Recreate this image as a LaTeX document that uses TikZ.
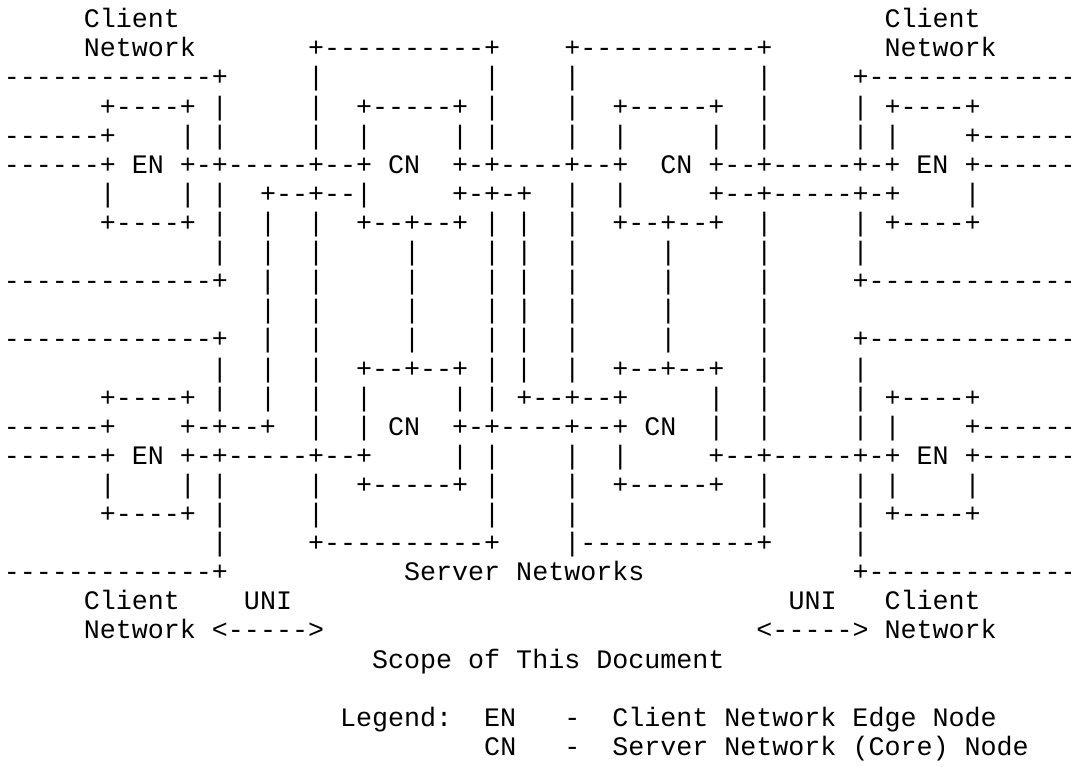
\documentclass[tikz,border=0pt]{standalone}
\usepackage{fontspec}
\setmonofont{Liberation Mono}

% a run of n blank columns
\newcommand\blank[1]{\kern#1\fontdimen2\font}

\begin{document}
\begin{tikzpicture}[x=12.011pt, y=-21.825pt,
	asciirow/.style={anchor=base west, inner sep=0pt, outer sep=0pt,
		font=\ttfamily\fontsize{20.015}{21.825}\selectfont}]
	\useasboundingbox (-2.85pt,20.85pt) rectangle ++(803.25pt,-575.25pt);

	% rows of the figure, placed at (first column, row)
	\node[asciirow] (row1) at (5,0) {Client\blank{44}Client};
	\node[asciirow] (row2) at (5,1) {Network\blank{7}+----------+\blank{4}+-----------+\blank{7}Network};
	\node[asciirow] (row3) at (0,2) {-------------+\blank{5}|\blank{10}|\blank{4}|\blank{11}|\blank{5}+-------------};
	\node[asciirow] (row4) at (6,3) {+----+ |\blank{5}|\blank{2}+-----+ |\blank{4}|\blank{2}+-----+\blank{2}|\blank{5}| +----+};
	\node[asciirow] (row5) at (0,4) {------+\blank{4}| |\blank{5}|\blank{2}|\blank{5}| |\blank{4}|\blank{2}|\blank{5}|\blank{2}|\blank{5}| |\blank{4}+------};
	\node[asciirow] (row6) at (0,5) {------+ EN +-+-----+--+ CN\blank{2}+-+----+--+\blank{2}CN +--+-----+-+ EN +------};
	\node[asciirow] (row7) at (6,6) {|\blank{4}| |\blank{2}+--+--|\blank{5}+-+-+\blank{2}|\blank{2}|\blank{5}+--+-----+-+\blank{4}|};
	\node[asciirow] (row8) at (6,7) {+----+ |\blank{2}|\blank{2}|\blank{2}+--+--+ | |\blank{2}|\blank{2}+--+--+\blank{2}|\blank{5}| +----+};
	\node[asciirow] (row9) at (13,8) {|\blank{2}|\blank{2}|\blank{5}|\blank{4}| |\blank{2}|\blank{5}|\blank{5}|\blank{5}|};
	\node[asciirow] (row10) at (0,9) {-------------+\blank{2}|\blank{2}|\blank{5}|\blank{4}| |\blank{2}|\blank{5}|\blank{5}|\blank{5}+-------------};
	\node[asciirow] (row11) at (16,10) {|\blank{2}|\blank{5}|\blank{4}| |\blank{2}|\blank{5}|\blank{5}|};
	\node[asciirow] (row12) at (0,11) {-------------+\blank{2}|\blank{2}|\blank{5}|\blank{4}| |\blank{2}|\blank{5}|\blank{5}|\blank{5}+-------------};
	\node[asciirow] (row13) at (13,12) {|\blank{2}|\blank{2}|\blank{2}+--+--+ | |\blank{2}|\blank{2}+--+--+\blank{2}|\blank{5}|};
	\node[asciirow] (row14) at (6,13) {+----+ |\blank{2}|\blank{2}|\blank{2}|\blank{5}| | +--+--+\blank{5}|\blank{2}|\blank{5}| +----+};
	\node[asciirow] (row15) at (0,14) {------+\blank{4}+-+--+\blank{2}|\blank{2}| CN\blank{2}+-+----+--+ CN\blank{2}|\blank{2}|\blank{5}| |\blank{4}+------};
	\node[asciirow] (row16) at (0,15) {------+ EN +-+-----+--+\blank{5}| |\blank{4}|\blank{2}|\blank{5}+--+-----+-+ EN +------};
	\node[asciirow] (row17) at (6,16) {|\blank{4}| |\blank{5}|\blank{2}+-----+ |\blank{4}|\blank{2}+-----+\blank{2}|\blank{5}| |\blank{4}|};
	\node[asciirow] (row18) at (6,17) {+----+ |\blank{5}|\blank{10}|\blank{4}|\blank{11}|\blank{5}| +----+};
	\node[asciirow] (row19) at (13,18) {|\blank{5}+----------+\blank{4}|-----------+\blank{5}|};
	\node[asciirow] (row20) at (0,19) {-------------+\blank{11}Server Networks\blank{13}+-------------};
	\node[asciirow] (row21) at (5,20) {Client\blank{4}UNI\blank{31}UNI\blank{3}Client};
	\node[asciirow] (row22) at (5,21) {Network <----->\blank{27}<-----> Network};
	\node[asciirow] (row23) at (23,22) {Scope of This Document};
	% legend
	\node[asciirow] (row25) at (21,24) {Legend:\blank{2}EN\blank{3}-\blank{2}Client Network Edge Node};
	\node[asciirow] (row26) at (30,25) {CN\blank{3}-\blank{2}Server Network (Core) Node};
\end{tikzpicture}
\end{document}
